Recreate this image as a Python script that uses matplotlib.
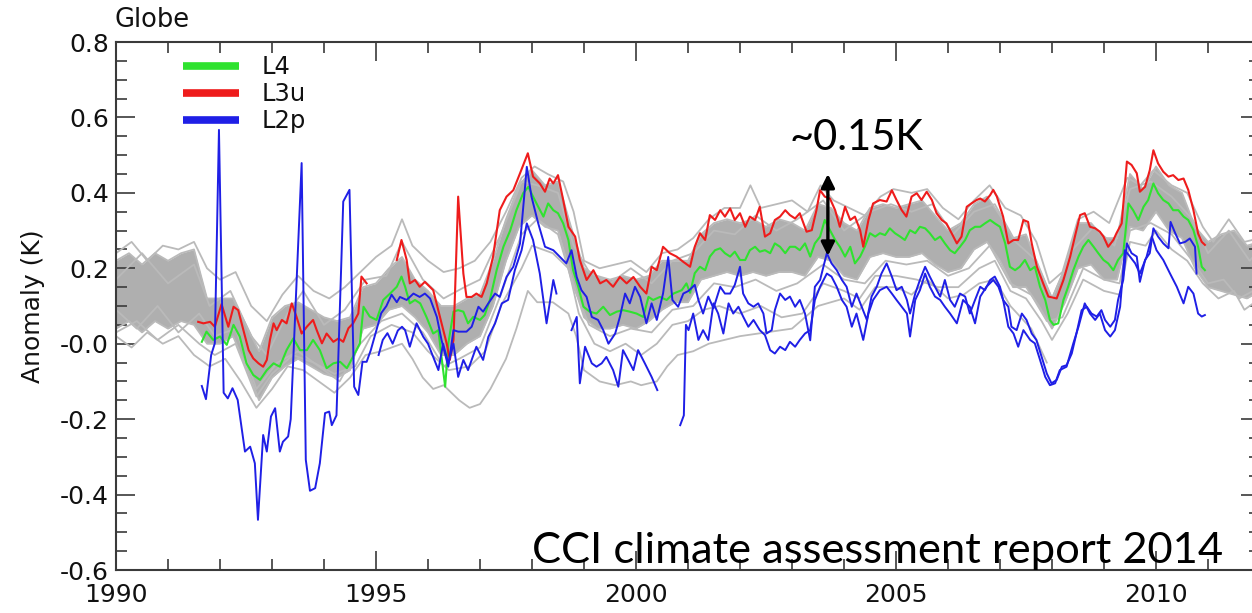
import numpy as np
import matplotlib
matplotlib.use("Agg")
import matplotlib.pyplot as plt
from matplotlib.lines import Line2D
from matplotlib.ticker import MultipleLocator, FixedLocator, FixedFormatter

# ---------------- data ----------------
# L4 analysis (green)
l4_year = [1991.65, 1991.74, 1991.87, 1992.00, 1992.13, 1992.26, 1992.38, 1992.51, 1992.64, 1992.77,
           1992.90, 1993.03, 1993.15, 1993.28, 1993.41, 1993.54, 1993.67, 1993.79, 1993.92, 1994.05,
           1994.18, 1994.31, 1994.44, 1994.56, 1994.69, 1994.76, 1994.88, 1995.01, 1995.14, 1995.27,
           1995.40, 1995.49, 1995.56, 1995.65, 1995.75, 1995.85, 1995.97, 1996.10, 1996.20, 1996.26,
           1996.33, 1996.39, 1996.49, 1996.58, 1996.68, 1996.77, 1996.87, 1997.00, 1997.09, 1997.19,
           1997.32, 1997.45, 1997.58, 1997.70, 1997.83, 1997.93, 1998.02, 1998.12, 1998.22, 1998.31,
           1998.41, 1998.50, 1998.60, 1998.70, 1998.79, 1998.89, 1998.99, 1999.11, 1999.24, 1999.37,
           1999.50, 1999.63, 1999.75, 1999.88, 2000.01, 2000.14, 2000.24, 2000.33, 2000.46, 2000.59,
           2000.72, 2000.88, 2000.97, 2001.04, 2001.13, 2001.23, 2001.33, 2001.42, 2001.52, 2001.62,
           2001.71, 2001.81, 2001.90, 2002.00, 2002.10, 2002.19, 2002.29, 2002.38, 2002.48, 2002.58,
           2002.67, 2002.77, 2002.87, 2002.96, 2003.06, 2003.15, 2003.25, 2003.35, 2003.44, 2003.54,
           2003.63, 2003.73, 2003.83, 2003.92, 2004.02, 2004.12, 2004.21, 2004.31, 2004.40, 2004.50,
           2004.60, 2004.69, 2004.79, 2004.88, 2004.98, 2005.08, 2005.17, 2005.27, 2005.37, 2005.46,
           2005.56, 2005.65, 2005.75, 2005.85, 2005.94, 2006.04, 2006.13, 2006.23, 2006.33, 2006.42,
           2006.52, 2006.62, 2006.71, 2006.81, 2006.90, 2007.00, 2007.10, 2007.19, 2007.29, 2007.38,
           2007.48, 2007.58, 2007.67, 2007.77, 2007.87, 2007.96, 2008.03, 2008.12, 2008.22, 2008.31,
           2008.41, 2008.51, 2008.60, 2008.70, 2008.80, 2008.89, 2008.99, 2009.08, 2009.18, 2009.27,
           2009.37, 2009.47, 2009.56, 2009.66, 2009.76, 2009.85, 2009.95, 2010.04, 2010.14, 2010.24,
           2010.33, 2010.43, 2010.53, 2010.62, 2010.72, 2010.81, 2010.88, 2010.94]
l4_anom = [0.005, 0.032, 0.010, 0.019, -0.003, 0.050, 0.019, -0.052, -0.083, -0.096,
           -0.070, -0.052, -0.061, -0.017, 0.014, -0.017, -0.017, 0.010, -0.017, -0.065,
           -0.052, -0.048, -0.065, -0.034, 0.001, 0.098, 0.072, 0.063, 0.116, 0.133,
           0.151, 0.178, 0.151, 0.107, 0.116, 0.107, 0.071, 0.027, 0.036, -0.035,
           -0.114, 0.000, 0.085, 0.089, 0.085, 0.054, 0.071, 0.063, 0.076, 0.116,
           0.195, 0.257, 0.300, 0.354, 0.399, 0.416, 0.390, 0.363, 0.337, 0.372,
           0.354, 0.346, 0.319, 0.275, 0.195, 0.151, 0.098, 0.085, 0.080, 0.098,
           0.076, 0.085, 0.089, 0.085, 0.080, 0.071, 0.124, 0.116, 0.124, 0.116,
           0.133, 0.142, 0.160, 0.135, 0.187, 0.204, 0.195, 0.231, 0.248, 0.253,
           0.240, 0.231, 0.244, 0.222, 0.222, 0.248, 0.257, 0.244, 0.248, 0.240,
           0.266, 0.257, 0.240, 0.257, 0.257, 0.248, 0.266, 0.231, 0.266, 0.284,
           0.328, 0.301, 0.275, 0.257, 0.231, 0.257, 0.213, 0.231, 0.257, 0.293,
           0.284, 0.293, 0.288, 0.306, 0.293, 0.284, 0.275, 0.301, 0.293, 0.310,
           0.306, 0.293, 0.275, 0.284, 0.266, 0.248, 0.240, 0.257, 0.275, 0.301,
           0.310, 0.310, 0.319, 0.328, 0.319, 0.310, 0.266, 0.204, 0.195, 0.204,
           0.222, 0.195, 0.204, 0.151, 0.116, 0.063, 0.050, 0.054, 0.116, 0.151,
           0.195, 0.231, 0.257, 0.275, 0.257, 0.240, 0.222, 0.213, 0.195, 0.222,
           0.240, 0.372, 0.354, 0.328, 0.363, 0.381, 0.425, 0.399, 0.381, 0.372,
           0.354, 0.354, 0.337, 0.328, 0.301, 0.257, 0.204, 0.195]

# L3u (red); NaN marks a data gap
l3u_year = [1991.58, 1991.68, 1991.81, 1991.90, 1992.03, 1992.16, 1992.26, 1992.35, 1992.45, 1992.55,
            1992.64, 1992.74, 1992.83, 1992.90, 1992.96, 1993.03, 1993.09, 1993.19, 1993.28, 1993.38,
            1993.47, 1993.57, 1993.67, 1993.79, 1993.86, 1993.96, 1994.05, 1994.18, 1994.28, 1994.37,
            1994.47, 1994.56, 1994.66, 1994.72, 1994.82, 1995.10, 1995.40, 1995.49, 1995.59, 1995.65,
            1995.75, 1995.84, 1995.94, 1996.10, 1996.23, 1996.36, 1996.42, 1996.49, 1996.58, 1996.68,
            1996.74, 1996.84, 1996.93, 1997.03, 1997.13, 1997.25, 1997.38, 1997.51, 1997.64, 1997.77,
            1997.92, 1998.02, 1998.15, 1998.25, 1998.34, 1998.41, 1998.50, 1998.60, 1998.70, 1998.83,
            1998.92, 1999.05, 1999.18, 1999.31, 1999.43, 1999.56, 1999.69, 1999.82, 1999.95, 2000.08,
            2000.20, 2000.30, 2000.40, 2000.52, 2000.65, 2000.78, 2000.91, 2001.04, 2001.13, 2001.23,
            2001.33, 2001.42, 2001.52, 2001.62, 2001.71, 2001.81, 2001.90, 2002.00, 2002.10, 2002.19,
            2002.29, 2002.38, 2002.48, 2002.58, 2002.67, 2002.77, 2002.87, 2002.96, 2003.06, 2003.15,
            2003.28, 2003.38, 2003.47, 2003.54, 2003.63, 2003.73, 2003.83, 2003.92, 2004.02, 2004.12,
            2004.21, 2004.31, 2004.37, 2004.47, 2004.56, 2004.69, 2004.82, 2004.92, 2005.01, 2005.11,
            2005.20, 2005.30, 2005.40, 2005.49, 2005.59, 2005.69, 2005.78, 2005.88, 2005.97, 2006.07,
            2006.17, 2006.26, 2006.36, 2006.45, 2006.55, 2006.62, 2006.71, 2006.81, 2006.87, 2006.94,
            2007.06, 2007.16, 2007.26, 2007.35, 2007.45, 2007.54, 2007.61, 2007.71, 2007.83, 2007.93,
            2008.09, 2008.22, 2008.35, 2008.44, 2008.54, 2008.63, 2008.73, 2008.83, 2008.92, 2008.99,
            2009.08, 2009.18, 2009.24, 2009.34, 2009.44, 2009.53, 2009.63, 2009.69, 2009.79, 2009.88,
            2009.95, 2010.04, 2010.14, 2010.24, 2010.33, 2010.43, 2010.53, 2010.62, 2010.72, 2010.81,
            2010.88, 2010.94]
l3u_anom = [0.058, 0.054, 0.058, 0.045, 0.105, 0.045, 0.098, 0.089, 0.036, -0.017,
            -0.039, -0.052, -0.061, -0.043, 0.010, 0.054, 0.036, 0.063, 0.054, 0.107,
            0.072, 0.027, 0.045, 0.063, 0.036, 0.001, 0.027, 0.005, 0.014, 0.005,
            0.041, 0.054, 0.080, 0.178, 0.160, np.nan, 0.222, 0.275, 0.222, 0.160,
            0.169, 0.151, 0.164, 0.142, 0.071, 0.000, -0.043, 0.010, 0.390, 0.186,
            0.124, 0.124, 0.133, 0.124, 0.160, 0.230, 0.354, 0.390, 0.407, 0.452,
            0.505, 0.443, 0.425, 0.403, 0.438, 0.425, 0.447, 0.381, 0.310, 0.284,
            0.222, 0.169, 0.195, 0.160, 0.169, 0.151, 0.177, 0.160, 0.177, 0.151,
            0.133, 0.204, 0.195, 0.257, 0.240, 0.231, 0.217, 0.204, 0.257, 0.293,
            0.275, 0.341, 0.328, 0.354, 0.337, 0.359, 0.328, 0.346, 0.310, 0.337,
            0.328, 0.363, 0.284, 0.293, 0.328, 0.337, 0.354, 0.341, 0.332, 0.346,
            0.297, 0.301, 0.354, 0.407, 0.390, 0.385, 0.354, 0.310, 0.363, 0.328,
            0.337, 0.301, 0.257, 0.328, 0.372, 0.381, 0.377, 0.407, 0.381, 0.354,
            0.337, 0.390, 0.399, 0.381, 0.403, 0.381, 0.346, 0.328, 0.319, 0.293,
            0.266, 0.284, 0.363, 0.372, 0.381, 0.385, 0.377, 0.394, 0.408, 0.390,
            0.337, 0.266, 0.275, 0.275, 0.328, 0.323, 0.266, 0.204, 0.160, 0.125,
            0.120, 0.169, 0.231, 0.284, 0.341, 0.346, 0.310, 0.306, 0.297, 0.284,
            0.257, 0.275, 0.293, 0.319, 0.483, 0.474, 0.452, 0.403, 0.416, 0.460,
            0.513, 0.478, 0.456, 0.443, 0.447, 0.434, 0.438, 0.408, 0.354, 0.292,
            0.270, 0.262]

# L2p (blue), first product line
l2p_a_year = [1991.65, 1991.73, 1991.83, 1991.90, 1991.98, 1992.07, 1992.15, 1992.24, 1992.34, 1992.48,
              1992.58, 1992.67, 1992.73, 1992.83, 1992.90, 1992.98, 1993.06, 1993.15, 1993.21, 1993.31,
              1993.36, 1993.57, 1993.65, 1993.73, 1993.83, 1993.92, 1994.02, 1994.10, 1994.15, 1994.24,
              1994.37, 1994.49, 1994.58, 1994.66, 1994.74, 1994.82, 1994.90, 1995.00, 1995.10, 1995.20,
              1995.30, 1995.40, 1995.46, 1995.59, 1995.72, 1995.84, 1995.94, 1996.04, 1996.17, 1996.26,
              1996.39, 1996.49, 1996.58, 1996.74, 1996.84, 1996.97, 1997.06, 1997.16, 1997.29, 1997.38,
              1997.51, 1997.64, 1997.77, 1997.90, 1997.99, 1998.12, 1998.25, 1998.41, 1998.54, 1998.66,
              1998.76, 1998.86, 1998.95, 1999.05, 1999.15, 1999.27, 1999.37, 1999.47, 1999.60, 1999.69,
              1999.79, 1999.88, 1999.98, 2000.08, 2000.20, 2000.30, 2000.40, 2000.52, 2000.62, 2000.70,
              2000.81, 2000.91, 2001.01, 2001.13, 2001.20, 2001.29, 2001.39, 2001.49, 2001.62, 2001.71,
              2001.81, 2001.90, 2002.00, 2002.06, 2002.16, 2002.26, 2002.35, 2002.45, 2002.51, 2002.61,
              2002.67, 2002.77, 2002.87, 2002.96, 2003.06, 2003.15, 2003.25, 2003.35, 2003.44, 2003.54,
              2003.67, 2003.76, 2003.86, 2003.96, 2004.05, 2004.15, 2004.24, 2004.34, 2004.44, 2004.53,
              2004.63, 2004.72, 2004.82, 2004.92, 2005.01, 2005.11, 2005.21, 2005.27, 2005.37, 2005.46,
              2005.56, 2005.65, 2005.75, 2005.85, 2005.94, 2006.04, 2006.13, 2006.23, 2006.33, 2006.42,
              2006.52, 2006.62, 2006.71, 2006.81, 2006.90, 2007.00, 2007.06, 2007.16, 2007.22, 2007.32,
              2007.42, 2007.51, 2007.61, 2007.70, 2007.80, 2007.90, 2007.99, 2008.09, 2008.19, 2008.28,
              2008.38, 2008.47, 2008.57, 2008.67, 2008.76, 2008.86, 2008.95, 2009.02, 2009.12, 2009.21,
              2009.27, 2009.37, 2009.44, 2009.53, 2009.63, 2009.69, 2009.79, 2009.88, 2009.95, 2010.04,
              2010.14, 2010.24, 2010.28, 2010.37, 2010.46, 2010.56, 2010.65, 2010.75, 2010.78]
l2p_a_anom = [-0.112, -0.147, -0.030, 0.001, 0.567, -0.130, -0.145, -0.118, -0.149, -0.286,
              -0.273, -0.317, -0.467, -0.242, -0.286, -0.193, -0.171, -0.286, -0.260, -0.246,
              -0.200, 0.479, -0.308, -0.390, -0.383, -0.317, -0.184, -0.180, -0.216, -0.190,
              0.377, 0.408, -0.114, -0.136, -0.048, -0.048, -0.017, 0.032, 0.081, 0.100,
              0.130, 0.110, 0.124, 0.116, 0.133, 0.124, 0.133, 0.120, 0.071, 0.010,
              -0.061, 0.036, 0.032, 0.032, 0.045, 0.098, 0.085, 0.107, 0.133, 0.124,
              0.177, 0.204, 0.266, 0.469, 0.390, 0.319, 0.257, 0.248, 0.230, 0.213,
              0.248, 0.177, 0.142, 0.124, 0.071, 0.063, 0.036, 0.000, 0.027, 0.071,
              0.133, 0.107, 0.151, 0.124, 0.054, 0.107, 0.063, 0.133, 0.230, 0.116,
              0.098, 0.133, 0.140, 0.156, 0.116, 0.080, 0.125, 0.094, 0.151, 0.133,
              0.133, 0.156, 0.204, 0.133, 0.107, 0.098, 0.107, 0.080, 0.027, 0.036,
              0.089, 0.133, 0.116, 0.125, 0.098, 0.116, 0.080, 0.009, 0.151, 0.169,
              0.240, 0.213, 0.195, 0.169, 0.151, 0.098, 0.133, 0.098, 0.063, 0.125,
              0.151, 0.186, 0.213, 0.178, 0.142, 0.151, 0.116, 0.080, 0.133, 0.169,
              0.204, 0.178, 0.151, 0.125, 0.169, 0.116, 0.098, 0.133, 0.125, 0.080,
              0.116, 0.151, 0.142, 0.169, 0.178, 0.151, 0.116, 0.098, 0.045, 0.036,
              0.080, 0.063, 0.027, 0.010, -0.035, -0.079, -0.105, -0.096, -0.061, -0.057,
              -0.026, 0.027, 0.089, 0.098, 0.080, 0.072, 0.089, 0.063, 0.045, 0.063,
              0.116, 0.169, 0.266, 0.240, 0.231, 0.164, 0.222, 0.240, 0.306, 0.284,
              0.266, 0.253, 0.323, 0.293, 0.266, 0.270, 0.279, 0.257, 0.186]

# L2p (blue), second product line; NaN marks a data gap
l2p_b_year = [1995.05, 1995.13, 1995.22, 1995.32, 1995.42, 1995.50, 1995.56, 1995.65, 1995.78, 1995.91,
              1996.00, 1996.10, 1996.20, 1996.29, 1996.39, 1996.49, 1996.58, 1996.68, 1996.77, 1996.93,
              1997.06, 1997.16, 1997.29, 1997.42, 1997.54, 1997.67, 1997.80, 1997.90, 1998.02, 1998.15,
              1998.28, 1998.41, 1998.47, 1998.60, 1998.76, 1998.86, 1998.92, 1999.02, 1999.15, 1999.24,
              1999.34, 1999.43, 1999.56, 1999.66, 1999.75, 1999.85, 1999.95, 2000.04, 2000.17, 2000.30,
              2000.41, 2000.60, 2000.85, 2000.92, 2000.96, 2001.01, 2001.10, 2001.20, 2001.29, 2001.39,
              2001.49, 2001.58, 2001.68, 2001.78, 2001.87, 2001.97, 2002.06, 2002.16, 2002.26, 2002.38,
              2002.48, 2002.58, 2002.67, 2002.77, 2002.87, 2002.96, 2003.06, 2003.15, 2003.25, 2003.35,
              2003.44, 2003.54, 2003.67, 2003.76, 2003.86, 2003.96, 2004.05, 2004.15, 2004.24, 2004.37,
              2004.47, 2004.56, 2004.69, 2004.82, 2004.92, 2005.01, 2005.11, 2005.21, 2005.27, 2005.37,
              2005.46, 2005.56, 2005.65, 2005.75, 2005.85, 2005.94, 2006.04, 2006.17, 2006.29, 2006.42,
              2006.52, 2006.62, 2006.74, 2006.87, 2006.97, 2007.06, 2007.16, 2007.26, 2007.35, 2007.45,
              2007.58, 2007.67, 2007.77, 2007.87, 2007.96, 2008.06, 2008.15, 2008.28, 2008.41, 2008.51,
              2008.63, 2008.73, 2008.83, 2008.92, 2009.02, 2009.12, 2009.21, 2009.31, 2009.40, 2009.50,
              2009.60, 2009.69, 2009.82, 2009.92, 2010.01, 2010.14, 2010.27, 2010.40, 2010.53, 2010.62,
              2010.72, 2010.81, 2010.88, 2010.94]
l2p_b_anom = [-0.030, 0.010, 0.028, 0.000, 0.035, 0.045, 0.036, -0.008, 0.054, 0.018,
              0.000, -0.035, -0.070, 0.000, -0.052, 0.000, -0.088, -0.043, -0.070, -0.008,
              -0.043, 0.018, 0.054, 0.107, 0.116, 0.195, 0.248, 0.319, 0.275, 0.186,
              0.054, 0.169, 0.133, np.nan, 0.036, 0.071, -0.105, -0.008, -0.052, -0.061,
              -0.052, -0.035, -0.070, -0.114, -0.017, -0.043, -0.070, -0.017, -0.052, -0.088,
              -0.123, np.nan, -0.216, -0.190, 0.050, 0.036, 0.080, 0.010, 0.036, 0.010,
              0.107, 0.080, 0.027, 0.107, 0.080, 0.098, 0.072, 0.045, 0.063, 0.036,
              0.023, -0.017, -0.026, -0.008, -0.017, 0.005, -0.008, 0.010, 0.027, 0.036,
              0.116, 0.151, 0.186, 0.178, 0.151, 0.116, 0.098, 0.045, 0.080, 0.010,
              0.080, 0.116, 0.142, 0.151, 0.133, 0.116, 0.098, 0.080, 0.019, 0.116,
              0.142, 0.186, 0.151, 0.125, 0.116, 0.098, 0.080, 0.054, 0.116, 0.098,
              0.054, 0.125, 0.151, 0.169, 0.151, 0.116, 0.045, 0.027, -0.008, 0.036,
              0.010, 0.001, -0.043, -0.088, -0.110, -0.105, -0.070, -0.061, 0.001, 0.045,
              0.107, 0.080, 0.063, 0.080, 0.036, 0.019, 0.036, 0.098, 0.248, 0.231,
              0.213, 0.186, 0.231, 0.284, 0.248, 0.222, 0.186, 0.151, 0.107, 0.151,
              0.133, 0.080, 0.072, 0.076]

# Ensemble of other products (grey): dense core envelope and several visible members
ens_year = [1990.00, 1990.25, 1990.50, 1990.75, 1991.00, 1991.25, 1991.50, 1991.75, 1992.00, 1992.25,
            1992.50, 1992.75, 1993.00, 1993.25, 1993.50, 1993.75, 1994.00, 1994.25, 1994.50, 1994.75,
            1995.00, 1995.25, 1995.50, 1995.75, 1996.00, 1996.25, 1996.50, 1996.75, 1997.00, 1997.25,
            1997.50, 1997.75, 1998.00, 1998.25, 1998.50, 1998.75, 1999.00, 1999.25, 1999.50, 1999.75,
            2000.00, 2000.25, 2000.50, 2000.75, 2001.00, 2001.25, 2001.50, 2001.75, 2002.00, 2002.25,
            2002.50, 2002.75, 2003.00, 2003.25, 2003.50, 2003.75, 2004.00, 2004.25, 2004.50, 2004.75,
            2005.00, 2005.25, 2005.50, 2005.75, 2006.00, 2006.25, 2006.50, 2006.75, 2007.00, 2007.25,
            2007.50, 2007.75, 2008.00, 2008.25, 2008.50, 2008.75, 2009.00, 2009.25, 2009.50, 2009.75,
            2010.00, 2010.25, 2010.50, 2010.75, 2011.00, 2011.25, 2011.50, 2011.75, 2012.00]
ens_low = [0.04, 0.06, 0.03, 0.06, 0.04, 0.06, 0.05, 0.00, 0.00, 0.02,
           -0.06, -0.15, -0.09, -0.06, -0.04, -0.06, -0.08, -0.09, -0.07, 0.04,
           0.05, 0.09, 0.10, 0.07, 0.03, -0.03, -0.03, 0.00, 0.02, 0.10,
           0.22, 0.31, 0.34, 0.31, 0.30, 0.18, 0.07, 0.04, 0.04, 0.05,
           0.04, 0.06, 0.09, 0.11, 0.11, 0.17, 0.18, 0.19, 0.18, 0.19,
           0.18, 0.19, 0.19, 0.18, 0.23, 0.22, 0.18, 0.17, 0.23, 0.24,
           0.23, 0.23, 0.24, 0.21, 0.19, 0.20, 0.25, 0.27, 0.22, 0.15,
           0.15, 0.10, 0.04, 0.11, 0.20, 0.21, 0.17, 0.17, 0.31, 0.30,
           0.35, 0.30, 0.28, 0.20, 0.15, 0.14, 0.13, 0.12, 0.14]
ens_high = [0.22, 0.24, 0.21, 0.24, 0.22, 0.24, 0.25, 0.12, 0.12, 0.12,
            0.05, -0.02, 0.07, 0.10, 0.11, 0.09, 0.07, 0.06, 0.07, 0.15,
            0.16, 0.20, 0.23, 0.17, 0.14, 0.10, 0.10, 0.12, 0.13, 0.22,
            0.33, 0.42, 0.46, 0.42, 0.43, 0.31, 0.20, 0.18, 0.17, 0.18,
            0.17, 0.18, 0.22, 0.22, 0.22, 0.29, 0.32, 0.33, 0.32, 0.33,
            0.31, 0.33, 0.32, 0.30, 0.37, 0.36, 0.32, 0.30, 0.36, 0.37,
            0.36, 0.37, 0.38, 0.34, 0.30, 0.32, 0.37, 0.39, 0.34, 0.28,
            0.29, 0.20, 0.12, 0.20, 0.32, 0.32, 0.28, 0.28, 0.45, 0.41,
            0.47, 0.42, 0.40, 0.31, 0.27, 0.29, 0.30, 0.26, 0.27]

ens_top_year = [1990.0, 1990.3, 1990.6, 1990.9, 1991.2, 1991.5, 1991.75, 1992.0, 1992.3, 1992.6,
                1992.9, 1993.2, 1993.5, 1993.8, 1994.1, 1994.4, 1994.7, 1995.0, 1995.3, 1995.5,
                1995.7, 1996.0, 1996.3, 1996.6, 1996.9, 1997.2, 1997.5, 1997.8, 1998.05, 1998.3,
                1998.6, 1998.8, 1999.0, 1999.3, 1999.6, 1999.9, 2000.2, 2000.5, 2000.8, 2001.1,
                2001.4, 2001.7, 2002.0, 2002.2, 2002.4, 2002.7, 2003.0, 2003.3, 2003.55, 2003.8,
                2004.1, 2004.4, 2004.7, 2004.95, 2005.3, 2005.6, 2005.9, 2006.2, 2006.5, 2006.8,
                2007.1, 2007.4, 2007.7, 2007.95, 2008.2, 2008.5, 2008.8, 2009.1, 2009.45, 2009.7,
                2009.95, 2010.3, 2010.6, 2010.9, 2011.1, 2011.4, 2011.7, 2012.0]
ens_top = [0.24, 0.27, 0.22, 0.26, 0.25, 0.27, 0.20, 0.17, 0.19, 0.10,
           0.06, 0.13, 0.18, 0.14, 0.12, 0.15, 0.19, 0.23, 0.26, 0.33,
           0.26, 0.22, 0.19, 0.20, 0.22, 0.27, 0.35, 0.44, 0.47, 0.45,
           0.43, 0.35, 0.22, 0.20, 0.21, 0.22, 0.19, 0.24, 0.25, 0.28,
           0.33, 0.36, 0.36, 0.42, 0.36, 0.37, 0.38, 0.35, 0.42, 0.38,
           0.36, 0.34, 0.39, 0.41, 0.40, 0.41, 0.36, 0.33, 0.38, 0.42,
           0.36, 0.34, 0.27, 0.16, 0.19, 0.33, 0.35, 0.32, 0.44, 0.42,
           0.46, 0.42, 0.40, 0.31, 0.27, 0.33, 0.27, 0.28]

ens_mid_a_year = [1990.0, 1990.5, 1991.0, 1991.5, 1991.8, 1992.2, 1992.6, 1992.9, 1993.3, 1993.6,
                  1994.0, 1994.4, 1994.8, 1995.2, 1995.5, 1995.9, 1996.3, 1996.7, 1997.0, 1997.4,
                  1997.8, 1998.1, 1998.5, 1998.8, 1999.1, 1999.5, 1999.9, 2000.3, 2000.7, 2001.1,
                  2001.5, 2001.9, 2002.3, 2002.7, 2003.1, 2003.6, 2004.0, 2004.5, 2004.9, 2005.3,
                  2005.7, 2006.1, 2006.5, 2006.9, 2007.3, 2007.7, 2008.0, 2008.4, 2008.8, 2009.2,
                  2009.5, 2009.9, 2010.3, 2010.7, 2011.0, 2011.4, 2011.8, 2012.0]
ens_mid_a = [0.17, 0.24, 0.16, 0.21, 0.10, 0.14, 0.02, -0.03, 0.08, 0.14,
             0.05, 0.09, 0.17, 0.18, 0.27, 0.17, 0.12, 0.15, 0.17, 0.29,
             0.43, 0.42, 0.40, 0.26, 0.19, 0.16, 0.20, 0.16, 0.22, 0.24,
             0.30, 0.29, 0.34, 0.30, 0.33, 0.38, 0.30, 0.35, 0.37, 0.35,
             0.37, 0.29, 0.35, 0.37, 0.27, 0.22, 0.12, 0.25, 0.31, 0.26,
             0.41, 0.43, 0.39, 0.33, 0.24, 0.30, 0.22, 0.25]

ens_mid_b_year = [1990.0, 1990.4, 1990.8, 1991.2, 1991.6, 1991.9, 1992.3, 1992.7, 1993.1, 1993.5,
                  1993.9, 1994.3, 1994.7, 1995.1, 1995.5, 1995.9, 1996.3, 1996.6, 1997.0, 1997.4,
                  1997.8, 1998.1, 1998.5, 1998.8, 1999.1, 1999.5, 1999.9, 2000.3, 2000.7, 2001.1,
                  2001.5, 2001.9, 2002.3, 2002.7, 2003.1, 2003.6, 2004.0, 2004.4, 2004.8, 2005.2,
                  2005.6, 2006.0, 2006.4, 2006.8, 2007.2, 2007.6, 2007.9, 2008.2, 2008.6, 2009.0,
                  2009.3, 2009.5, 2009.9, 2010.3, 2010.7, 2011.0, 2011.3, 2011.6, 2012.0]
ens_mid_b = [0.09, 0.04, 0.10, 0.03, 0.08, 0.02, 0.04, -0.12, -0.05, -0.02,
             -0.06, -0.10, 0.00, 0.06, 0.08, 0.03, -0.06, -0.04, -0.01, 0.13,
             0.29, 0.33, 0.29, 0.15, 0.05, 0.02, 0.04, 0.03, 0.09, 0.10,
             0.16, 0.15, 0.17, 0.14, 0.16, 0.21, 0.17, 0.16, 0.22, 0.21,
             0.22, 0.18, 0.20, 0.26, 0.16, 0.13, 0.06, 0.07, 0.20, 0.17,
             0.16, 0.30, 0.32, 0.29, 0.22, 0.16, 0.17, 0.12, 0.15]

ens_low1_year = [1990.0, 1990.3, 1990.6, 1990.9, 1991.2, 1991.5, 1991.8, 1992.1, 1992.4, 1992.7,
                 1993.0, 1993.3, 1993.6, 1993.9, 1994.2, 1994.5, 1994.8, 1995.1, 1995.5, 1995.7,
                 1995.9, 1996.1, 1996.3, 1996.6, 1996.8, 1997.0, 1997.2, 1997.5, 1997.7, 1997.92,
                 1998.1, 1998.4, 1998.7, 1998.85, 1999.0, 1999.3, 1999.6, 1999.9, 2000.1, 2000.4,
                 2000.6, 2000.8, 2001.1, 2001.4, 2001.7, 2002.0, 2002.5, 2003.0, 2003.5, 2004.0,
                 2004.3, 2004.6, 2005.0, 2005.3, 2005.6, 2006.0, 2006.3, 2006.6, 2006.9, 2007.2,
                 2007.6, 2007.9]
ens_low1 = [0.02, -0.01, 0.03, 0.00, 0.02, -0.03, -0.06, -0.04, -0.10, -0.17,
            -0.12, -0.06, -0.07, -0.10, -0.13, -0.09, -0.03, -0.02, 0.00, -0.04,
            -0.09, -0.12, -0.11, -0.15, -0.17, -0.16, -0.12, -0.04, 0.04, 0.14,
            0.11, 0.11, 0.08, 0.02, -0.07, -0.10, -0.11, -0.10, -0.11, -0.10,
            -0.06, -0.03, -0.02, 0.00, 0.01, 0.02, 0.03, 0.04, 0.10, 0.12,
            0.09, 0.15, 0.15, 0.13, 0.17, 0.12, 0.13, 0.16, 0.17, 0.10,
            0.04, -0.05]

ens_low2_year = [1990.0, 1990.4, 1990.8, 1991.2, 1991.6, 1991.9, 1992.3, 1992.7, 1993.0, 1993.4,
                 1993.8, 1994.2, 1994.6, 1994.9, 1995.3, 1995.7, 1996.0, 1996.4, 1996.8, 1997.1,
                 1997.4, 1997.8, 1998.0, 1998.4, 1998.7, 1998.9, 1999.2, 1999.5, 1999.8, 2000.1,
                 2000.4, 2000.7, 2001.0, 2001.3, 2001.6, 2002.0, 2002.4, 2002.8, 2003.2, 2003.6,
                 2004.0, 2004.3, 2004.6, 2005.0, 2005.4, 2005.8, 2006.2, 2006.6, 2006.9, 2007.2,
                 2007.5, 2007.8, 2008.0, 2008.3, 2008.6, 2009.0, 2009.3, 2009.5, 2009.8, 2010.0,
                 2010.3, 2010.6, 2010.9, 2011.2, 2011.5, 2011.7, 2012.0]
ens_low2 = [0.03, 0.06, 0.01, 0.05, 0.00, -0.03, 0.00, -0.14, -0.08, -0.03,
            -0.05, -0.08, -0.06, 0.02, 0.05, 0.03, -0.02, -0.07, -0.06, -0.02,
            0.10, 0.20, 0.26, 0.24, 0.20, 0.08, 0.00, -0.02, 0.00, -0.03,
            0.00, 0.05, 0.06, 0.09, 0.10, 0.08, 0.10, 0.07, 0.08, 0.16,
            0.14, 0.12, 0.18, 0.18, 0.17, 0.15, 0.15, 0.20, 0.22, 0.14,
            0.12, 0.06, 0.01, 0.08, 0.17, 0.14, 0.13, 0.27, 0.26, 0.30,
            0.25, 0.22, 0.16, 0.12, 0.14, 0.09, 0.12]

y_ticks = [-0.6, -0.4, -0.2, 0.0, 0.2, 0.4, 0.6, 0.8]
y_tick_labels = ["-0.6", "-0.4", "-0.2", "-0.0", "0.2", "0.4", "0.6", "0.8"]
x_ticks = [1990, 1995, 2000, 2005, 2010]
x_tick_labels = ["1990", "1995", "2000", "2005", "2010"]

series_labels = ["L4", "L3u", "L2p"]
arrow_year = 2003.69
arrow_top, arrow_bottom = 0.450, 0.233

# ---------------- styling ----------------
GREEN = "#2fe22f"
RED = "#ee1c1c"
BLUE = "#1f1fe6"
GREY_FILL = "#afafaf"
GREY_LINE = "#bababa"
AXIS = "#3a3a3a"
FONT = "DejaVu Sans"

W, H = 1252, 613
fig = plt.figure(figsize=(W / 100, H / 100), dpi=100)
ax = fig.add_axes([116 / W, 43 / H, 1144 / W, 528 / H])

ax.fill_between(ens_year, ens_low, ens_high, color=GREY_FILL, lw=0, zorder=1)
for yy, vv in [(ens_top_year, ens_top), (ens_mid_a_year, ens_mid_a), (ens_mid_b_year, ens_mid_b),
               (ens_low1_year, ens_low1), (ens_low2_year, ens_low2),
               (ens_year, ens_low), (ens_year, ens_high)]:
    ax.plot(yy, vv, color=GREY_LINE, lw=1.3, zorder=2)

ax.plot(l4_year, l4_anom, color=GREEN, lw=1.5, zorder=3)
ax.plot(l3u_year, l3u_anom, color=RED, lw=1.5, zorder=4)
ax.plot(l2p_a_year, l2p_a_anom, color=BLUE, lw=1.4, zorder=5)
ax.plot(l2p_b_year, l2p_b_anom, color=BLUE, lw=1.4, zorder=5)

ax.set_xlim(1990, 2012)
ax.set_ylim(-0.6, 0.8)

ax.xaxis.set_major_locator(FixedLocator(x_ticks))
ax.xaxis.set_major_formatter(FixedFormatter(x_tick_labels))
ax.xaxis.set_minor_locator(MultipleLocator(1))
ax.yaxis.set_major_locator(FixedLocator(y_ticks))
ax.yaxis.set_major_formatter(FixedFormatter(y_tick_labels))
ax.yaxis.set_minor_locator(MultipleLocator(0.05))

for sp in ax.spines.values():
    sp.set_color(AXIS)
    sp.set_linewidth(1.5)
ax.tick_params(which="both", direction="in", top=True, right=True, color=AXIS, width=1.2,
               labelsize=18, labelcolor="#111111")
ax.tick_params(which="major", length=14)
ax.tick_params(which="minor", length=8)
ax.tick_params(axis="x", which="major", pad=9)
ax.tick_params(axis="y", which="major", pad=5)
for lab in ax.get_xticklabels() + ax.get_yticklabels():
    lab.set_fontfamily(FONT)

ax.set_ylabel("Anomaly (K)", fontsize=18, family=FONT, color="#111111")
ax.yaxis.set_label_coords(-0.062, 0.5)

fig.text(115 / W, 1 - 27 / H, "Globe", fontsize=18.5, family=FONT,
         ha="left", va="baseline", color="#111111")

handles = [Line2D([], [], color=c, lw=5.5, solid_capstyle="butt") for c in (GREEN, RED, BLUE)]
leg = ax.legend(handles, series_labels, loc="upper left", bbox_to_anchor=(0.0586, 0.975),
                frameon=False, borderaxespad=0, borderpad=0, handlelength=2.3,
                handletextpad=0.95, labelspacing=0.12,
                prop={"family": FONT, "size": 17.5})
for t in leg.get_texts():
    t.set_color("#111111")

ax.annotate("", xy=(arrow_year, arrow_top), xytext=(arrow_year, arrow_bottom),
            arrowprops=dict(arrowstyle="<|-|>", color="black", lw=2.4, mutation_scale=20,
                            shrinkA=0, shrinkB=0), zorder=6)
fig.text(790 / W, 1 - 150 / H, "~0.15K", fontsize=30, family="Lato",
         ha="left", va="baseline", color="black")
fig.text(1223 / W, 1 - 563 / H, "CCI climate assessment report 2014", fontsize=31.3,
         family="Lato", ha="right", va="baseline", color="black")

fig.savefig("out.png", dpi=100)
